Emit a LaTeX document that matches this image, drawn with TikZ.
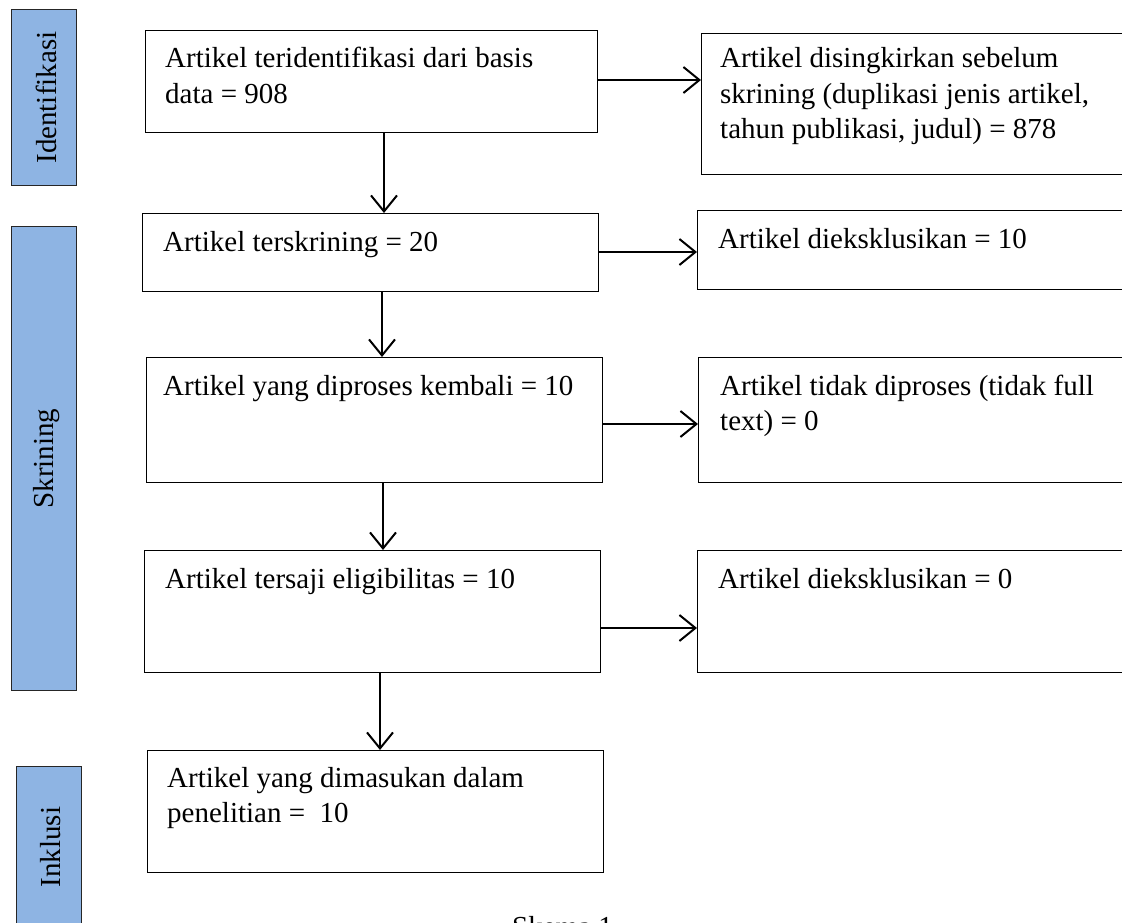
\documentclass[tikz,border=0pt]{standalone}
\usepackage{fontspec}
\setmainfont{Liberation Serif}
\usetikzlibrary{arrows.meta,calc}
\definecolor{phase}{HTML}{8EB4E3}
\begin{document}
\begin{tikzpicture}[x=1pt,y=-1pt,
  box/.style={draw=black, line width=1.2pt, inner sep=0pt, anchor=north west},
  phasebox/.style={draw=black!85, fill=phase, line width=1.2pt, inner sep=0pt, anchor=north west},
  txt/.style={anchor=base west, inner sep=0pt, font=\fontsize{29}{35.5}\selectfont},
  ptxt/.style={rotate=90, inner sep=0pt, font=\fontsize{29}{35.5}\selectfont},
  arr/.style={line width=2pt, -{Straight Barb[length=16pt,width=26pt,line width=2pt]}}
]
\useasboundingbox (0,0) rectangle (1122,923);
% phase labels
\node[phasebox, minimum width=65pt, minimum height=176pt] (pid) at (11,9) {};
\node[ptxt] (pidt) at ($(pid.center)+(2,0)$) {Identifikasi};
\node[phasebox, minimum width=65pt, minimum height=464pt] (psk) at (11,226) {};
\node[ptxt] (pskt) at ($(psk.center)+(2,0)$) {Skrining};
\node[phasebox, minimum width=65pt, minimum height=200pt] (pin) at (16,766) {};
\node[ptxt] (pint) at (50.5,847) {Inklusi};
% main boxes
\node[box, minimum width=452pt, minimum height=102pt] (b1) at (145,30) {};
\node[box, minimum width=456pt, minimum height=78pt] (b2) at (142,213) {};
\node[box, minimum width=456pt, minimum height=125pt] (b3) at (146,357) {};
\node[box, minimum width=456pt, minimum height=122pt] (b4) at (144,550) {};
\node[box, minimum width=456pt, minimum height=122pt] (b5) at (147,750) {};
% right boxes
\node[box, minimum width=440pt, minimum height=141pt] (r1) at (701,33) {};
\node[box, minimum width=440pt, minimum height=79pt] (r2) at (697,210) {};
\node[box, minimum width=440pt, minimum height=125pt] (r3) at (698,357) {};
\node[box, minimum width=440pt, minimum height=122pt] (r4) at (697,550) {};
% texts
\node[txt] (t1) at (165,68) {\parbox[t]{500pt}{Artikel teridentifikasi dari basis\\data = 908}};
\node[txt] (t2) at (163,251) {Artikel terskrining = 20};
\node[txt] (t3) at (163,395) {Artikel yang diproses kembali = 10};
\node[txt] (t4) at (165,588) {Artikel tersaji eligibilitas = 10};
\node[txt] (t5) at (167,787) {\parbox[t]{500pt}{Artikel yang dimasukan dalam\\penelitian =~ 10}};
\node[txt] (s1) at (720,68) {\parbox[t]{500pt}{Artikel disingkirkan sebelum\\skrining (duplikasi jenis artikel,\\tahun publikasi, judul) = 878}};
\node[txt] (s2) at (718,248) {Artikel dieksklusikan = 10};
\node[txt] (s3) at (720,395) {\parbox[t]{500pt}{Artikel tidak diproses (tidak full\\text) = 0}};
\node[txt] (s4) at (718,588) {Artikel dieksklusikan = 0};
\node[txt] (sk) at (512,936) {Skema 1};
% arrow guide coordinates
\coordinate (v1) at (384,0);
\coordinate (v2) at (382,0);
\coordinate (v3) at (383,0);
\coordinate (v4) at (380,0);
\coordinate (h1) at (0,80);
\coordinate (h2) at (0,252);
\coordinate (h3) at (0,424);
\coordinate (h4) at (0,628);
% vertical arrows
\draw[arr] (b1.south -| v1) -- (b2.north -| v1);
\draw[arr] (b2.south -| v2) -- (b3.north -| v2);
\draw[arr] (b3.south -| v3) -- (b4.north -| v3);
\draw[arr] (b4.south -| v4) -- (b5.north -| v4);
% horizontal arrows
\draw[arr] (b1.east |- h1) -- (r1.west |- h1);
\draw[arr] (b2.east |- h2) -- (r2.west |- h2);
\draw[arr] (b3.east |- h3) -- (r3.west |- h3);
\draw[arr] (b4.east |- h4) -- (r4.west |- h4);
\end{tikzpicture}
\end{document}
